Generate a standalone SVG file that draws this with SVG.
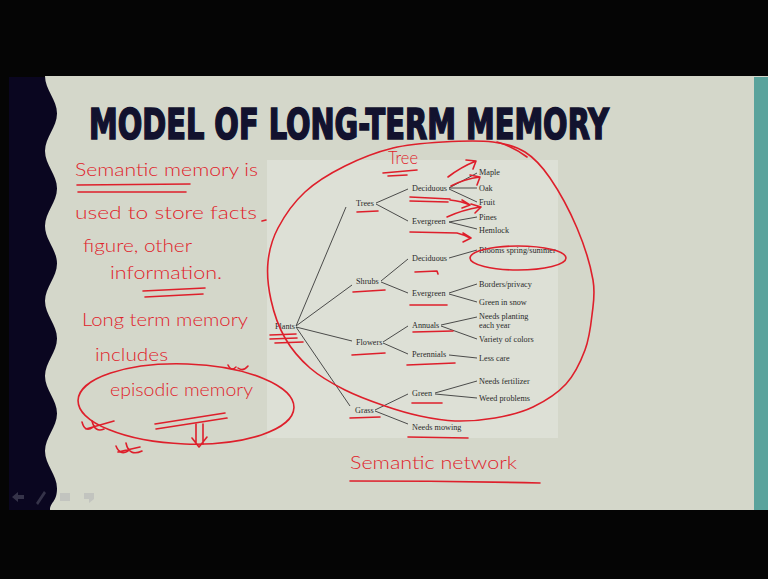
<svg xmlns="http://www.w3.org/2000/svg" width="768" height="579" viewBox="0 0 768 579">
<style>
.t{font-family:"Liberation Serif","Times New Roman",serif;font-size:8.2px;fill:#2b2b2b}
.c{stroke:#3a3a3a;stroke-width:0.9;fill:none}
.pen{stroke:#de1f2b;stroke-width:1.6;fill:none;stroke-linecap:round;stroke-linejoin:round}
.hw{font-family:"Lato","Open Sans",sans-serif;font-weight:300;font-size:17px;fill:#e0232b}
.title{font-family:"Liberation Sans Narrow","DejaVu Sans Condensed",sans-serif;font-weight:bold;font-size:42px;fill:#12122e;stroke:#12122e;stroke-width:1.6}
</style>
<rect x="0" y="0" width="768" height="579" fill="#050505"/>
<rect x="9" y="77" width="60" height="433" fill="#0a0620"/>
<path d="M45,76 C45,89.7 57,99.8 57,113.5 S45,137.3 45,151 S57,174.8 57,188.5 S45,212.3 45,226 S57,249.8 57,263.5 S45,287.3 45,301 S57,324.8 57,338.5 S45,362.3 45,376 S57,399.8 57,413.5 S45,437.3 45,451 S57,474.8 57,488.5 S50,502 50,510 L768,510 L768,76 Z" fill="#d4d7ca"/>
<rect x="754" y="77" width="14" height="433" fill="#5aa39c"/>
<rect x="267" y="160" width="291" height="278" fill="#dde0d6"/>
<g opacity="0.3" fill="#9a9aa8">
<path d="M12,497 L18,492 L18,495 L24,495 L24,499 L18,499 L18,502 Z"/>
<path d="M36,503 L44,491 L46,493 L38,505 Z"/>
<rect x="60" y="493" width="10" height="8"/>
<path d="M84,493 L94,493 L94,499 L89,503 L89,499 L84,499 Z"/>
</g>
<text class="title" x="89" y="139" textLength="520" lengthAdjust="spacingAndGlyphs">MODEL OF LONG-TERM MEMORY</text>

<g id="connectors">
<path class="c" d="M296,326 L346,207"/>
<path class="c" d="M296,326 L352,285"/>
<path class="c" d="M296,327 L352,341"/>
<path class="c" d="M296,327 L350,406"/>
<path class="c" d="M376,203 L408,189"/>
<path class="c" d="M376,204 L408,221"/>
<path class="c" d="M449,188 L477,173"/>
<path class="c" d="M449,188 L477,188"/>
<path class="c" d="M449,189 L477,202"/>
<path class="c" d="M449,222 L477,217"/>
<path class="c" d="M449,222 L477,229"/>
<path class="c" d="M381,281 L408,259"/>
<path class="c" d="M381,282 L408,293"/>
<path class="c" d="M449,258 L477,250"/>
<path class="c" d="M449,293 L477,284"/>
<path class="c" d="M449,294 L477,302"/>
<path class="c" d="M383,342 L408,326"/>
<path class="c" d="M383,343 L408,354"/>
<path class="c" d="M441,325 L477,317"/>
<path class="c" d="M441,326 L477,339"/>
<path class="c" d="M449,355 L477,358"/>
<path class="c" d="M375,410 L408,394"/>
<path class="c" d="M375,411 L408,424"/>
<path class="c" d="M435,393 L477,381"/>
<path class="c" d="M435,394 L477,398"/>
</g>

<g id="n-plants"><text class="t" x="275" y="329">Plants</text></g>
<g id="n-trees"><text class="t" x="356" y="206">Trees</text></g>
<g id="n-trees-deciduous"><text class="t" x="412" y="191">Deciduous</text></g>
<g id="n-maple"><text class="t" x="479" y="175">Maple</text></g>
<g id="n-oak"><text class="t" x="479" y="191">Oak</text></g>
<g id="n-fruit"><text class="t" x="479" y="205">Fruit</text></g>
<g id="n-trees-evergreen"><text class="t" x="412" y="224">Evergreen</text></g>
<g id="n-pines"><text class="t" x="479" y="220">Pines</text></g>
<g id="n-hemlock"><text class="t" x="479" y="233">Hemlock</text></g>
<g id="n-shrubs"><text class="t" x="356" y="284">Shrubs</text></g>
<g id="n-shrubs-deciduous"><text class="t" x="412" y="261">Deciduous</text></g>
<g id="n-blooms"><text class="t" x="479" y="253">Blooms spring/summer</text></g>
<g id="n-shrubs-evergreen"><text class="t" x="412" y="296">Evergreen</text></g>
<g id="n-borders"><text class="t" x="479" y="287">Borders/privacy</text></g>
<g id="n-greensnow"><text class="t" x="479" y="305">Green in snow</text></g>
<g id="n-flowers"><text class="t" x="356" y="345">Flowers</text></g>
<g id="n-annuals"><text class="t" x="412" y="328">Annuals</text></g>
<g id="n-planting"><text class="t" x="479" y="319">Needs planting</text><text class="t" x="479" y="328">each year</text></g>
<g id="n-variety"><text class="t" x="479" y="342">Variety of colors</text></g>
<g id="n-perennials"><text class="t" x="412" y="357">Perennials</text></g>
<g id="n-lesscare"><text class="t" x="479" y="361">Less care</text></g>
<g id="n-grass"><text class="t" x="355" y="413">Grass</text></g>
<g id="n-green"><text class="t" x="412" y="396">Green</text></g>
<g id="n-fertilizer"><text class="t" x="479" y="384">Needs fertilizer</text></g>
<g id="n-weed"><text class="t" x="479" y="401">Weed problems</text></g>
<g id="n-mowing"><text class="t" x="412" y="430">Needs mowing</text></g>

<g id="annotations">
<text class="hw" x="75" y="176" textLength="183" lengthAdjust="spacingAndGlyphs">Semantic memory is</text>
<text class="hw" x="75" y="219" textLength="182" lengthAdjust="spacingAndGlyphs">used to store facts</text>
<text class="hw" x="83" y="252" textLength="109" lengthAdjust="spacingAndGlyphs">figure, other</text>
<text class="hw" x="110" y="279" textLength="112" lengthAdjust="spacingAndGlyphs">information.</text>
<text class="hw" x="82" y="326" textLength="166" lengthAdjust="spacingAndGlyphs">Long term memory</text>
<text class="hw" x="95" y="361" textLength="73" lengthAdjust="spacingAndGlyphs">includes</text>
<text class="hw" x="110" y="396" textLength="143" lengthAdjust="spacingAndGlyphs">episodic memory</text>
<text class="hw" x="350" y="469" textLength="167" lengthAdjust="spacingAndGlyphs">Semantic network</text>
<text class="hw" x="388" y="164" font-size="16" textLength="30" lengthAdjust="spacingAndGlyphs">Tree</text>

<path class="pen" d="M77,185 L190,184 M78,192 L186,192"/>
<path class="pen" d="M262,221 L266,220"/>
<path class="pen" d="M143,291 L205,288 M145,297 L203,294"/>
<path class="pen" d="M228,365 Q231,372 236,367 M238,368 Q243,372 248,366"/>
<ellipse class="pen" cx="186" cy="404" rx="108" ry="40" transform="rotate(2 186 404)"/>
<path class="pen" d="M155,424 L225,413 M156,429 L227,418"/>
<path class="pen" d="M196,424 L196,444 M203,424 L203,444 M192,438 L199,447 L207,437"/>
<path class="pen" d="M82,422 Q85,433 93,427 M92,421 Q95,433 104,429 M86,429 L114,421"/>
<path class="pen" d="M116,446 Q120,456 128,451 M126,443 Q129,457 142,451 M118,452 L140,447"/>

<path class="pen" stroke-width="1.8" d="M443,142 C459.7,141 479.3,140.3 493,142 C506.7,143.7 515.5,146 525,152 C534.5,158 541.3,165.3 550,178 C558.7,190.7 569.8,211 577,228 C584.2,245 590.5,265.5 593,280 C595.5,294.5 593.3,303.3 592,315 C590.7,326.7 589.3,338.5 585,350 C580.7,361.5 574.7,374.5 566,384 C557.3,393.5 544.8,401.3 533,407 C521.2,412.7 508,415.7 495,418 C482,420.3 467.5,421.3 455,421 C442.5,420.7 431.7,418.5 420,416 C408.3,413.5 397.5,410.3 385,406 C372.5,401.7 357.5,396.3 345,390 C332.5,383.7 320,376.7 310,368 C300,359.3 291.5,349.3 285,338 C278.5,326.7 273.8,312.7 271,300 C268.2,287.3 266.8,274 268,262 C269.2,250 271.8,239.7 278,228 C284.2,216.3 293.8,202.3 305,192 C316.2,181.7 330.3,173.3 345,166 C359.7,158.7 376.7,152 393,148 C409.3,144 426.3,143 443,142 Z"/>
<path class="pen" d="M497,142 Q512,146 527,157"/>
<ellipse class="pen" cx="518" cy="258" rx="48" ry="12"/>

<path class="pen" d="M383,173 L417,170 M388,176 L407,175"/>
<path class="pen" d="M357,212 L378,211"/>
<path class="pen" d="M448,177 Q461,167 476,161 M466,160 L476,161 L473,169"/>
<path class="pen" d="M451,186 Q464,179 480,177 M470,175 L480,177 L477,185"/>
<path class="pen" stroke-width="2" d="M410,197 L450,199 M410,201 L448,202"/>
<path class="pen" d="M450,200 Q461,201 470,205 M462,200 L470,205 L462,208"/>
<path class="pen" d="M447,217 Q462,210 480,207 M471,204 L481,207 L475,213"/>
<path class="pen" d="M410,232 L457,233 Q465,235 470,238 M463,233 L471,238 L463,242"/>
<path class="pen" d="M415,272 L437,271 L438,274"/>
<path class="pen" d="M353,292 L385,290"/>
<path class="pen" d="M410,305 L447,305"/>
<path class="pen" d="M270,335 L296,334 M270,339 L297,338 M275,343 L303,342"/>
<path class="pen" d="M352,355 L385,353"/>
<path class="pen" d="M413,332 L453,331"/>
<path class="pen" d="M407,365 L455,363"/>
<path class="pen" d="M412,403 L442,403"/>
<path class="pen" d="M350,418 L380,417"/>
<path class="pen" d="M408,437 L468,438"/>
<path class="pen" d="M350,481 Q445,481 540,483"/>
</g>
</svg>
